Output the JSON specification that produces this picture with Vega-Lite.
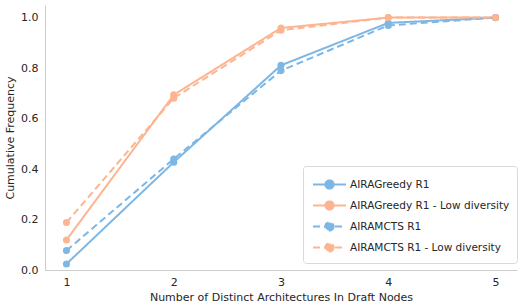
{
  "$schema": "https://vega.github.io/schema/vega-lite/v6.json",
  "width": 472,
  "height": 265,
  "autosize": {"type": "none"},
  "padding": {"left": 45, "top": 5, "right": 6, "bottom": 38},
  "background": "white",
  "config": {
    "font": "DejaVu Sans",
    "view": {"stroke": null},
    "axis": {"grid": false, "domainColor": "#cccccc", "ticks": false, "labelFontSize": 11, "titleFontSize": 11, "labelColor": "#262626", "titleColor": "#262626", "titleFontWeight": "normal", "labelFont": "DejaVu Sans", "titleFont": "DejaVu Sans"}
  },
  "data": {
    "values": [
      {"k": 1, "cf": 0.024, "series": "AIRAGreedy R1"},
      {"k": 2, "cf": 0.427, "series": "AIRAGreedy R1"},
      {"k": 3, "cf": 0.811, "series": "AIRAGreedy R1"},
      {"k": 4, "cf": 0.979, "series": "AIRAGreedy R1"},
      {"k": 5, "cf": 1.0, "series": "AIRAGreedy R1"},
      {"k": 1, "cf": 0.119, "series": "AIRAGreedy R1 - Low diversity"},
      {"k": 2, "cf": 0.694, "series": "AIRAGreedy R1 - Low diversity"},
      {"k": 3, "cf": 0.959, "series": "AIRAGreedy R1 - Low diversity"},
      {"k": 4, "cf": 1.0, "series": "AIRAGreedy R1 - Low diversity"},
      {"k": 5, "cf": 1.0, "series": "AIRAGreedy R1 - Low diversity"},
      {"k": 1, "cf": 0.077, "series": "AIRAMCTS R1"},
      {"k": 2, "cf": 0.44, "series": "AIRAMCTS R1"},
      {"k": 3, "cf": 0.79, "series": "AIRAMCTS R1"},
      {"k": 4, "cf": 0.969, "series": "AIRAMCTS R1"},
      {"k": 5, "cf": 1.0, "series": "AIRAMCTS R1"},
      {"k": 1, "cf": 0.188, "series": "AIRAMCTS R1 - Low diversity"},
      {"k": 2, "cf": 0.681, "series": "AIRAMCTS R1 - Low diversity"},
      {"k": 3, "cf": 0.95, "series": "AIRAMCTS R1 - Low diversity"},
      {"k": 4, "cf": 1.0, "series": "AIRAMCTS R1 - Low diversity"},
      {"k": 5, "cf": 1.0, "series": "AIRAMCTS R1 - Low diversity"}
    ]
  },
  "mark": {"type": "line", "strokeWidth": 2, "point": {"size": 50, "filled": true, "opacity": 1}},
  "encoding": {
    "x": {"field": "k", "type": "quantitative", "scale": {"domain": [0.8, 5.2], "nice": false, "zero": false},
      "axis": {"values": [1, 2, 3, 4, 5], "format": "d", "labelPadding": 6, "title": "Number of Distinct Architectures In Draft Nodes", "titlePadding": 4}},
    "y": {"field": "cf", "type": "quantitative", "scale": {"domain": [0, 1.05], "nice": false},
      "axis": {"values": [0, 0.2, 0.4, 0.6, 0.8, 1.0], "format": ".1f", "labelPadding": 7, "title": "Cumulative Frequency", "titlePadding": 5}},
    "color": {"field": "series", "type": "nominal",
      "scale": {"domain": ["AIRAGreedy R1", "AIRAGreedy R1 - Low diversity", "AIRAMCTS R1", "AIRAMCTS R1 - Low diversity"], "range": ["#7cb7e6", "#fdb591", "#7cb7e6", "#fdb591"]},
      "legend": {"title": null, "orient": "none", "legendX": 258, "legendY": 161, "strokeColor": "#d9d9d9", "fillColor": "white", "cornerRadius": 3, "padding": 7, "labelFontSize": 10.5, "labelColor": "#262626", "symbolType": "M-1.6,0H1.6M0.4,0A0.4,0.4,0,1,1,-0.4,0A0.4,0.4,0,1,1,0.4,0", "symbolSize": 425, "symbolStrokeWidth": 2, "rowPadding": 1, "labelOffset": 9, "symbolOffset": 8}},
    "strokeDash": {"field": "series", "type": "nominal",
      "scale": {"domain": ["AIRAGreedy R1", "AIRAGreedy R1 - Low diversity", "AIRAMCTS R1", "AIRAMCTS R1 - Low diversity"], "range": [[1, 0], [1, 0], [7, 4], [7, 4]]}}
  }
}
